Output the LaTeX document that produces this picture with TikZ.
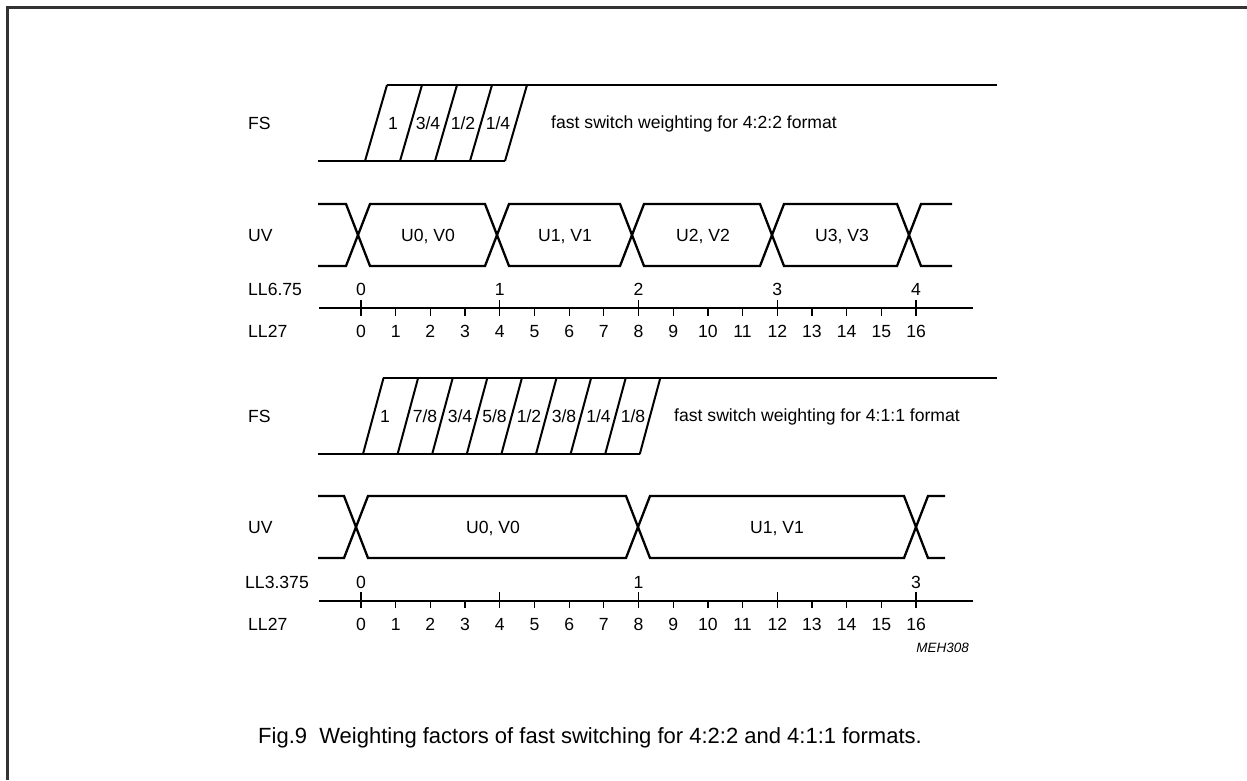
\documentclass[tikz,border=0pt]{standalone}
\usepackage{fontspec}
\setmainfont{Liberation Sans}
\begin{document}
\begin{tikzpicture}[x=1pt,y=-1pt,
  sig/.style={line width=2.3pt, line join=miter},
  slash/.style={line width=2pt},
  ax/.style={line width=1.2pt},
  framestyle/.style={line width=2.2pt, draw=black!80},
  lbl/.style={font=\fontsize{17.6}{20}\selectfont, inner sep=0pt, text height=12.6pt, text depth=0pt},
  side/.style={lbl, anchor=west},
  captxt/.style={font=\fontsize{22}{24}\selectfont, inner sep=0pt, text height=15.8pt, text depth=0pt, anchor=west},
  codetxt/.style={font=\fontsize{13.5}{16}\selectfont\itshape, inner sep=0pt, text height=9.7pt, text depth=0pt, anchor=east}]
\useasboundingbox (0,0) rectangle (1247,780);
% frame
\draw[framestyle] (7.5,780) -- (7.5,7.5) -- (1247,7.5);

% ---------------- top FS (4:2:2)
\node[side] (fs1) at (248,123) {FS};
\draw[sig] (318,161) -- (505,161);
\draw[sig] (387,85) -- (997,85);
\foreach \i in {0,...,4}{
  \draw[slash] ({365+35*\i},161) -- ({387+35*\i},85);
}
\node[lbl] (a1) at (393,123) {1};
\node[lbl] (a2) at (428,123) {3/4};
\node[lbl] (a3) at (463,123) {1/2};
\node[lbl] (a4) at (498,123) {1/4};
\node[lbl, anchor=west] (fsw1) at (551,122) {fast switch weighting for 4:2:2 format};

% ---------------- top UV
\node[side] (uv1) at (248,235) {UV};
\draw[sig] (318,204) -- (346,204) -- (370,266) -- (485,266) -- (509,204) -- (620,204) -- (644,266) -- (760,266) -- (784,204) -- (897,204) -- (921,266) -- (952,266);
\draw[sig] (318,266) -- (346,266) -- (370,204) -- (485,204) -- (509,266) -- (620,266) -- (644,204) -- (760,204) -- (784,266) -- (897,266) -- (921,204) -- (952,204);
\node[lbl] (u0) at (428,235) {U0, V0};
\node[lbl] (u1) at (565,235) {U1, V1};
\node[lbl] (u2) at (703,235) {U2, V2};
\node[lbl] (u3) at (842,235) {U3, V3};

% ---------------- top axis
\node[side] (ll675) at (248,289) {LL6.75};
\node[side] (ll27a) at (248,331) {LL27};
\draw[ax] (319,308) -- (973,308);
\foreach \k in {0,...,16}{
  \pgfmathsetmacro{\xx}{361+34.69*\k}
  \pgfmathtruncatemacro{\mm}{mod(\k,4)}
  \ifnum\mm=0
    \draw[ax] (\xx,300) -- (\xx,316);
  \else
    \draw[ax] (\xx,308) -- (\xx,316);
  \fi
  \node[lbl] (ta\k) at (\xx,331) {\k};
}
\foreach \j in {0,...,4}{
  \pgfmathsetmacro{\xx}{361+34.69*4*\j}
  \node[lbl] (tu\j) at (\xx,289) {\j};
}

% ---------------- bottom FS (4:1:1)
\node[side] (fs2) at (248,416) {FS};
\draw[sig] (318,454) -- (640,454);
\draw[sig] (383,378) -- (997,378);
\foreach \i in {0,...,8}{
  \draw[slash] ({363+34.6*\i},454) -- ({383.5+34.6*\i},378);
}
\node[lbl] (b1) at (385,416) {1};
\node[lbl] (b2) at (425,416) {7/8};
\node[lbl] (b3) at (460,416) {3/4};
\node[lbl] (b4) at (494.5,416) {5/8};
\node[lbl] (b5) at (529,416) {1/2};
\node[lbl] (b6) at (564,416) {3/8};
\node[lbl] (b7) at (598.5,416) {1/4};
\node[lbl] (b8) at (633,416) {1/8};
\node[lbl, anchor=west] (fsw2) at (674,415) {fast switch weighting for 4:1:1 format};

% ---------------- bottom UV
\node[side] (uv2) at (248,527) {UV};
\draw[sig] (318,496) -- (344,496) -- (368,558) -- (626,558) -- (650,496) -- (904,496) -- (928,558) -- (945,558);
\draw[sig] (318,558) -- (344,558) -- (368,496) -- (626,496) -- (650,558) -- (904,558) -- (928,496) -- (945,496);
\node[lbl] (v0) at (493,527) {U0, V0};
\node[lbl] (v1) at (777,527) {U1, V1};

% ---------------- bottom axis
\node[side] (ll3375) at (245,582) {LL3.375};
\node[side] (ll27b) at (248,624) {LL27};
\draw[ax] (319,601) -- (973,601);
\foreach \k in {0,...,16}{
  \pgfmathsetmacro{\xx}{361+34.69*\k}
  \pgfmathtruncatemacro{\mm}{mod(\k,4)}
  \ifnum\mm=0
    \draw[ax] (\xx,592) -- (\xx,608);
  \else
    \draw[ax] (\xx,601) -- (\xx,608);
  \fi
  \node[lbl] (ba\k) at (\xx,624) {\k};
}
\node[lbl] (bu0) at (361,582) {0};
\node[lbl] (bu1) at ({361+34.69*8},582) {1};
\node[lbl] (bu3) at ({361+34.69*16},582) {3};

\node[codetxt] (meh) at (969,648) {MEH308};
\node[captxt] (caption) at (258,736) {Fig.9\ \ Weighting factors of fast switching for 4:2:2 and 4:1:1 formats.};
\end{tikzpicture}
\end{document}
